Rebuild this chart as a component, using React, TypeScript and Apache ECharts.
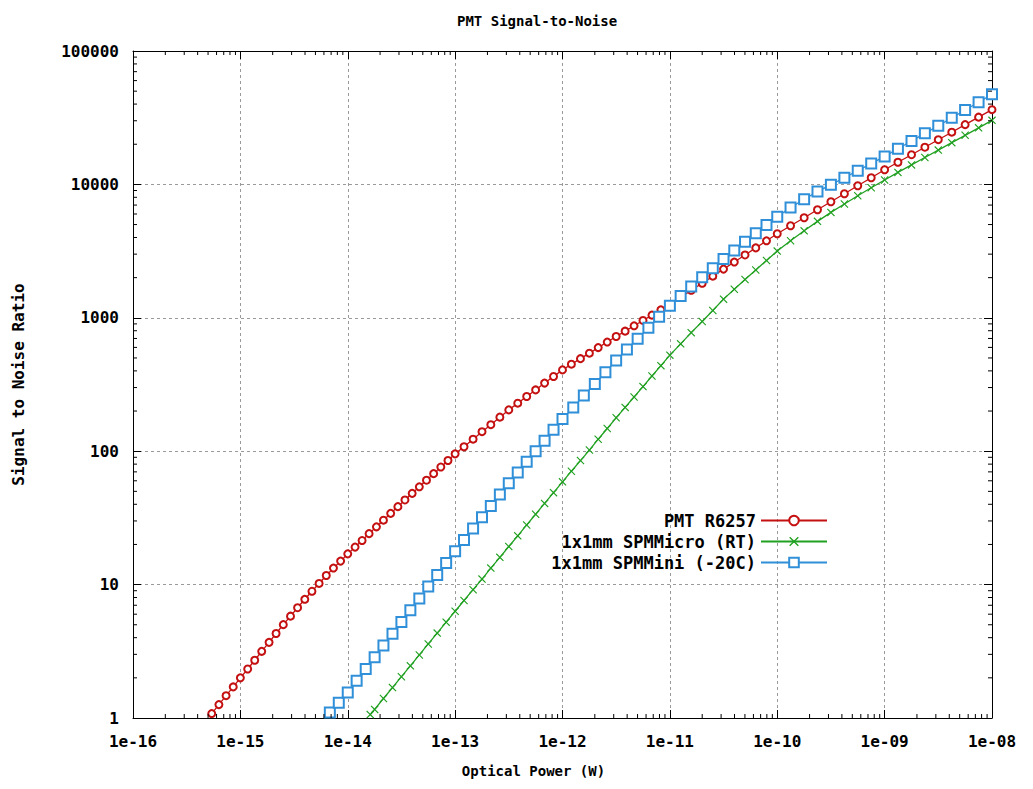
import React, { useEffect, useRef } from "react";
import * as echarts from "echarts";

const chartTitle = "PMT Signal-to-Noise";
const xAxisTitle = "Optical Power (W)";
const yAxisTitle = "Signal to Noise Ratio";
const seriesNames = ["PMT R6257", "1x1mm SPMMicro (RT)", "1x1mm SPMMini (-20C)"];
const seriesColors = ["#c41010", "#20a020", "#2f8fd8"];

const xTickValues = [1e-16, 1e-15, 1e-14, 1e-13, 1e-12, 1e-11, 1e-10, 1e-9, 1e-8];
const xTickLabels = ["1e-16", "1e-15", "1e-14", "1e-13", "1e-12", "1e-11", "1e-10", "1e-09", "1e-08"];
const yTickValues = [1, 10, 100, 1000, 10000, 100000];
const yTickLabels = ["1", "10", "100", "1000", "10000", "100000"];

// PMT R6257
const pmtX = [
  5.41e-16, 6.31e-16, 7.36e-16, 8.58e-16, 1.0e-15, 1.17e-15, 1.36e-15, 1.58e-15, 1.85e-15, 2.15e-15,
  2.51e-15, 2.93e-15, 3.41e-15, 3.98e-15, 4.64e-15, 5.41e-15, 6.31e-15, 7.36e-15, 8.58e-15, 1.0e-14,
  1.17e-14, 1.36e-14, 1.58e-14, 1.85e-14, 2.15e-14, 2.51e-14, 2.93e-14, 3.41e-14, 3.98e-14, 4.64e-14,
  5.41e-14, 6.31e-14, 7.36e-14, 8.58e-14, 1.0e-13,
  1.21e-13, 1.47e-13, 1.78e-13, 2.15e-13, 2.61e-13, 3.16e-13, 3.83e-13, 4.64e-13, 5.62e-13, 6.81e-13,
  8.25e-13, 1.0e-12, 1.21e-12, 1.47e-12, 1.78e-12, 2.15e-12, 2.61e-12, 3.16e-12, 3.83e-12, 4.64e-12,
  5.62e-12, 6.81e-12, 8.25e-12, 1.0e-11,
  1.26e-11, 1.58e-11, 2.0e-11, 2.51e-11, 3.16e-11, 3.98e-11, 5.01e-11, 6.31e-11, 7.94e-11, 1.0e-10,
  1.33e-10, 1.78e-10, 2.37e-10, 3.16e-10, 4.22e-10, 5.62e-10, 7.5e-10, 1.0e-9,
  1.33e-9, 1.78e-9, 2.37e-9, 3.16e-9, 4.22e-9, 5.62e-9, 7.5e-9, 1.0e-8,
];
const pmtY = [
  1.08, 1.26, 1.47, 1.71, 2.0, 2.33, 2.71, 3.16, 3.69, 4.3,
  5.01, 5.8, 6.71, 7.76, 8.91, 10.2, 11.7, 13.3, 15.0, 17.0,
  19.1, 21.4, 24.1, 27.1, 30.4, 34.2, 38.4, 43.1, 48.3, 54.1,
  60.6, 67.9, 76.1, 85.2, 95.5,
  108, 123, 140, 158, 180, 204, 229, 257, 288, 324,
  363, 407, 449, 494, 543, 598, 658, 724, 794, 871,
  955, 1047, 1148, 1259,
  1422, 1607, 1816, 2051, 2317, 2618, 2958, 3342, 3776, 4266,
  4898, 5623, 6457, 7413, 8511, 9772, 11220, 12882,
  14660, 16690, 19000, 21630, 24620, 28050, 31920, 36310,
];

// 1x1mm SPMMicro (RT)
const microX = [
  1.62e-14, 1.78e-14, 2.15e-14, 2.61e-14, 3.16e-14, 3.83e-14, 4.64e-14, 5.62e-14, 6.81e-14, 8.25e-14,
  1.0e-13, 1.21e-13, 1.47e-13, 1.78e-13, 2.15e-13, 2.61e-13, 3.16e-13, 3.83e-13, 4.64e-13, 5.62e-13,
  6.81e-13, 8.25e-13, 1.0e-12, 1.21e-12, 1.47e-12, 1.78e-12, 2.15e-12, 2.61e-12, 3.16e-12, 3.83e-12,
  4.64e-12, 5.62e-12, 6.81e-12, 8.25e-12, 1.0e-11,
  1.26e-11, 1.58e-11, 2.0e-11, 2.51e-11, 3.16e-11, 3.98e-11, 5.01e-11, 6.31e-11, 7.94e-11, 1.0e-10,
  1.33e-10, 1.78e-10, 2.37e-10, 3.16e-10, 4.22e-10, 5.62e-10, 7.5e-10, 1.0e-9,
  1.33e-9, 1.78e-9, 2.37e-9, 3.16e-9, 4.22e-9, 5.62e-9, 7.5e-9, 1.0e-8,
];
const microY = [
  1.06, 1.16, 1.4, 1.69, 2.04, 2.46, 2.97, 3.59, 4.33, 5.23,
  6.31, 7.6, 9.16, 11.0, 13.3, 16.0, 19.3, 23.2, 28.0, 33.7,
  40.6, 48.9, 58.9, 70.8, 85.1, 102, 123, 148, 178, 213,
  255, 305, 366, 438, 525,
  638, 774, 938, 1135, 1380, 1637, 1936, 2280, 2692, 3162,
  3776, 4487, 5284, 6166, 7129, 8222, 9441, 10789,
  12303, 13996, 15922, 18072, 20559, 23335, 26546, 30200,
];

// 1x1mm SPMMini (-20C)
const miniX = [
  6.81e-15, 8.25e-15, 1.0e-14, 1.21e-14, 1.47e-14, 1.78e-14, 2.15e-14, 2.61e-14, 3.16e-14, 3.83e-14,
  4.64e-14, 5.62e-14, 6.81e-14, 8.25e-14, 1.0e-13, 1.21e-13, 1.47e-13, 1.78e-13, 2.15e-13, 2.61e-13,
  3.16e-13, 3.83e-13, 4.64e-13, 5.62e-13, 6.81e-13, 8.25e-13, 1.0e-12,
  1.26e-12, 1.58e-12, 2.0e-12, 2.51e-12, 3.16e-12, 3.98e-12, 5.01e-12, 6.31e-12, 7.94e-12, 1.0e-11,
  1.26e-11, 1.58e-11, 2.0e-11, 2.51e-11, 3.16e-11, 3.98e-11, 5.01e-11, 6.31e-11, 7.94e-11, 1.0e-10,
  1.33e-10, 1.78e-10, 2.37e-10, 3.16e-10, 4.22e-10, 5.62e-10, 7.5e-10, 1.0e-9,
  1.33e-9, 1.78e-9, 2.37e-9, 3.16e-9, 4.22e-9, 5.62e-9, 7.5e-9, 1.0e-8,
];
const miniY = [
  1.1, 1.3, 1.55, 1.9, 2.33, 2.85, 3.49, 4.28, 5.25, 6.43,
  7.88, 9.66, 11.8, 14.5, 17.8, 21.6, 26.3, 32.0, 38.9, 47.3,
  57.5, 69.2, 83.2, 100, 120, 145, 174,
  213, 261, 319, 391, 479, 578, 698, 843, 1019, 1230,
  1455, 1714, 2014, 2355, 2754, 3199, 3715, 4295, 4966, 5728,
  6699, 7745, 8831, 9954, 11220, 12677, 14322, 16218,
  18514, 21135, 24128, 27542, 31530, 36100, 41330, 47315,
];

const minorMantissas = [2, 3, 4, 5, 6, 7, 8, 9];

const FONT = "'DejaVu Sans Mono', 'Liberation Mono', monospace";
const CROSS = "path://M0,1 L1,0 L5,4 L9,0 L10,1 L6,5 L10,9 L9,10 L5,6 L1,10 L0,9 L4,5 Z";

function labelFor(values: number[], labels: string[], v: number) {
  for (let i = 0; i < values.length; i++) {
    if (Math.abs(Math.log10(v / values[i])) < 0.01) return labels[i];
  }
  return "";
}

export default function App() {
  const ref = useRef<HTMLDivElement>(null);

  useEffect(() => {
    if (!ref.current) return;
    const chart = echarts.init(ref.current, undefined, { renderer: "svg" });
    const pair = (xs: number[], ys: number[]) => xs.map((x, i) => [x, ys[i]]);
    const xMin = xTickValues[0];
    const xMax = xTickValues[xTickValues.length - 1];
    const yMin = yTickValues[0];
    const yMax = yTickValues[yTickValues.length - 1];

    // minor tick positions (2..9 within each decade), drawn through the axes' scales
    const xMinor: number[][] = [];
    for (let i = 0; i < xTickValues.length - 1; i++)
      for (const m of minorMantissas) xMinor.push([m * xTickValues[i], yMin]);
    const yMinor: number[][] = [];
    for (let i = 0; i < yTickValues.length - 1; i++)
      for (const m of minorMantissas) yMinor.push([xMin, m * yTickValues[i]]);

    const textBase = { fontFamily: FONT, fontWeight: "bold" as const, color: "#000" };
    const splitLine = { show: true, lineStyle: { color: "#9a9a9a", type: [3, 3] as any, width: 1 } };
    const axisLine = { show: true, lineStyle: { color: "#000", width: 1 } };
    const tick = { show: true, inside: true, length: 8, lineStyle: { color: "#000", width: 1 } };
    const minorLen = 4;
    const tickStyle = { stroke: "#000", lineWidth: 1 };

    const option: any = {
      animation: false,
      backgroundColor: "#ffffff",
      title: {
        text: chartTitle,
        left: 452,
        top: 9,
        textStyle: { ...textBase, fontSize: 14 },
      },
      grid: { left: 133, right: 41, top: 51, bottom: 71, containLabel: false },
      legend: {
        data: seriesNames,
        orient: "vertical",
        align: "right",
        right: 205,
        top: 512,
        padding: 0,
        itemWidth: 66,
        itemHeight: 12,
        itemGap: 4,
        textStyle: { ...textBase, fontSize: 17 },
      },
      xAxis: [
        {
          type: "log",
          logBase: 10,
          min: xMin,
          max: xMax,
          splitNumber: 8,
          position: "bottom",
          axisLine,
          axisTick: tick,
          splitLine,
          axisLabel: {
            ...textBase,
            fontSize: 16,
            margin: 15,
            formatter: (v: number) => labelFor(xTickValues, xTickLabels, v),
          },
          name: xAxisTitle,
          nameLocation: "middle",
          nameGap: 46,
          nameTextStyle: { ...textBase, fontSize: 14, padding: [0, 58, 0, 0] },
        },
        {
          type: "log",
          logBase: 10,
          min: xMin,
          max: xMax,
          splitNumber: 8,
          position: "top",
          axisLine,
          axisTick: tick,
          axisLabel: { show: false },
          splitLine: { show: false },
        },
      ],
      yAxis: [
        {
          type: "log",
          logBase: 10,
          min: yMin,
          max: yMax,
          splitNumber: 5,
          position: "left",
          axisLine,
          axisTick: tick,
          splitLine,
          axisLabel: {
            ...textBase,
            fontSize: 16,
            margin: 14,
            formatter: (v: number) => labelFor(yTickValues, yTickLabels, v),
          },
          name: yAxisTitle,
          nameLocation: "middle",
          nameRotate: 90,
          nameGap: 107,
          nameTextStyle: { ...textBase, fontSize: 16 },
        },
        {
          type: "log",
          logBase: 10,
          min: yMin,
          max: yMax,
          splitNumber: 5,
          position: "right",
          axisLine,
          axisTick: tick,
          axisLabel: { show: false },
          splitLine: { show: false },
        },
      ],
      series: [
        {
          name: seriesNames[0],
          type: "line",
          data: pair(pmtX, pmtY),
          symbol: "emptyCircle",
          symbolSize: 7,
          color: seriesColors[0],
          lineStyle: { width: 1.3, color: seriesColors[0] },
          itemStyle: { color: seriesColors[0], borderWidth: 1.5 },
        },
        {
          name: seriesNames[1],
          type: "line",
          data: pair(microX, microY),
          symbol: CROSS,
          symbolSize: 8,
          color: seriesColors[1],
          lineStyle: { width: 1.3, color: seriesColors[1] },
          itemStyle: { color: seriesColors[1] },
        },
        {
          name: seriesNames[2],
          type: "line",
          data: pair(miniX, miniY),
          symbol: "emptyRect",
          symbolSize: 10,
          color: seriesColors[2],
          lineStyle: { width: 1.3, color: seriesColors[2] },
          itemStyle: { color: seriesColors[2], borderWidth: 1.5 },
        },
        {
          name: "x minor ticks",
          type: "custom",
          silent: true,
          clip: false,
          z: 10,
          data: xMinor,
          encode: { x: 0, y: 1 },
          renderItem: (_p: any, api: any) => {
            const v = api.value(0);
            const pb = api.coord([v, yMin]);
            const pt = api.coord([v, yMax]);
            return {
              type: "group",
              children: [
                { type: "line", shape: { x1: pb[0], y1: pb[1], x2: pb[0], y2: pb[1] - minorLen }, style: tickStyle },
                { type: "line", shape: { x1: pt[0], y1: pt[1], x2: pt[0], y2: pt[1] + minorLen }, style: tickStyle },
              ],
            };
          },
        },
        {
          name: "y minor ticks",
          type: "custom",
          silent: true,
          clip: false,
          z: 10,
          data: yMinor,
          encode: { x: 0, y: 1 },
          renderItem: (_p: any, api: any) => {
            const v = api.value(1);
            const pl = api.coord([xMin, v]);
            const pr = api.coord([xMax, v]);
            return {
              type: "group",
              children: [
                { type: "line", shape: { x1: pl[0], y1: pl[1], x2: pl[0] + minorLen, y2: pl[1] }, style: tickStyle },
                { type: "line", shape: { x1: pr[0], y1: pr[1], x2: pr[0] - minorLen, y2: pr[1] }, style: tickStyle },
              ],
            };
          },
        },
      ],
    };
    chart.setOption(option);

    return () => chart.dispose();
  }, []);

  return (
    <div
      ref={ref}
      style={{ position: "fixed", left: 0, top: 0, width: 1033, height: 789, background: "#fff" }}
    />
  );
}
